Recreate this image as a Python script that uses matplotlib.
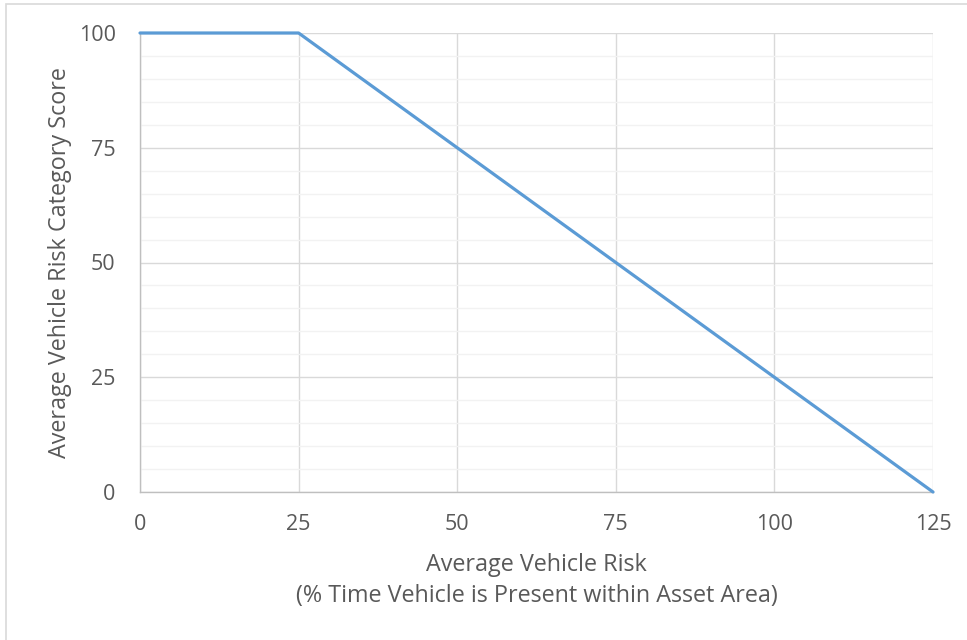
import matplotlib
matplotlib.use("Agg")
import matplotlib.pyplot as plt
from matplotlib.patches import Rectangle
from matplotlib.ticker import MultipleLocator

x_values = [0, 25, 125]
y_values = [100, 100, 0]
x_ticks = [0, 25, 50, 75, 100, 125]
y_ticks = [0, 25, 50, 75, 100]

plt.rcParams['font.family'] = ['Open Sans', 'DejaVu Sans']

W, H = 967, 640
fig = plt.figure(figsize=(W / 100, H / 100), dpi=100)
ax = fig.add_axes([140 / W, 1 - 492 / H, (933 - 140) / W, (492 - 33) / H])

# outer chart border
fig.patches.append(Rectangle((6 / W, -0.01), 1.0, 1 - 4 / H + 0.01, transform=fig.transFigure,
                             fill=False, edgecolor='#D9D9D9', linewidth=1.2))

ax.set_xlim(0, 125)
ax.set_ylim(0, 100)
ax.set_xticks(x_ticks)
ax.set_yticks(y_ticks)
ax.yaxis.set_minor_locator(MultipleLocator(5))
ax.grid(which='major', axis='both', color='#D9D9D9', linewidth=1.0)
ax.grid(which='minor', axis='y', color='#F2F2F2', linewidth=1.0)
ax.set_axisbelow(True)

for s in ['top', 'right']:
    ax.spines[s].set_visible(False)
ax.spines['left'].set_color('#BFBFBF')
ax.spines['bottom'].set_color('#BFBFBF')
ax.spines['left'].set_linewidth(1.0)
ax.spines['bottom'].set_linewidth(1.0)

ax.tick_params(which='both', length=0, labelsize=15.5, colors='#595959')
ax.tick_params(axis='x', pad=16)
ax.tick_params(axis='y', pad=17.5)

ax.plot(x_values, y_values, color='#5B9BD5', linewidth=2.3, solid_capstyle='round', zorder=3, clip_on=False)

ax.set_xlabel('Average Vehicle Risk\n(% Time Vehicle is Present within Asset Area)',
              fontsize=16.8, color='#595959', labelpad=13, linespacing=1.4)
ax.set_ylabel('Average Vehicle Risk Category Score', fontsize=16.8, color='#595959', labelpad=5)

fig.savefig('out.png', dpi=100)
